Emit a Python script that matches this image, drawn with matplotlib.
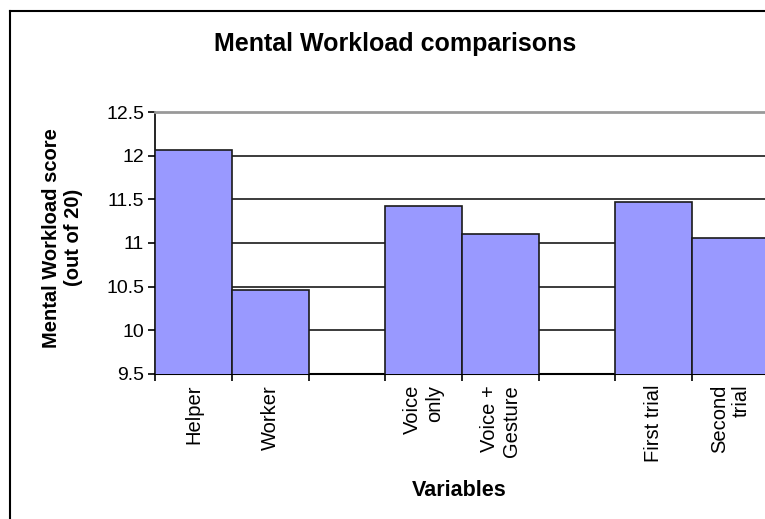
import matplotlib.pyplot as plt
from matplotlib.lines import Line2D

# chart values
labels = ["Helper", "Worker", "Voice\nonly", "Voice +\nGesture", "First trial", "Second\ntrial"]
scores = [12.07, 10.46, 11.43, 11.10, 11.47, 11.06]
groups = [0, 0, 1, 1, 2, 2]
yticks = [9.5, 10, 10.5, 11, 11.5, 12, 12.5]

plt.rcParams['font.family'] = ['Liberation Sans', 'DejaVu Sans']

fig = plt.figure(figsize=(7.65, 5.19), dpi=100)
ax = fig.add_axes([0.203, 0.280, 0.802, 0.5036])

# each group takes two slots plus one empty slot
xpos = []
for i, g in enumerate(groups):
    xpos.append(g * 3 + (i % 2))

ax.bar(xpos, scores, width=1.0, align='edge', color='#9999FF',
       edgecolor='#1a1a1a', linewidth=1.2, zorder=3)

ax.set_xlim(0, 8)
ax.set_ylim(9.5, 12.5)
ax.set_yticks(yticks)
ax.set_yticklabels([f"{t:g}" for t in yticks], fontsize=14)
ax.yaxis.grid(True, color='#1a1a1a', linewidth=1.2, zorder=0)
ax.set_axisbelow(True)

# ticks on category borders, labels in the middle of the bars
ax.set_xticks(range(0, 9))
ax.set_xticklabels([])
ax.tick_params(axis='x', which='major', direction='out', length=5, width=1.2)
ax.tick_params(axis='y', direction='out', length=5, width=1.2, pad=3)
ax.set_xticks([x + 0.5 for x in xpos], minor=True)
ax.set_xticklabels(labels, minor=True, rotation=90, fontsize=14.5,
                   va='top', ha='center', multialignment='right')
ax.tick_params(axis='x', which='minor', length=0, pad=8)

ax.spines['right'].set_visible(False)
ax.spines['top'].set_color('#999999')
ax.spines['top'].set_linewidth(2)
ax.spines['left'].set_linewidth(1.2)
ax.spines['bottom'].set_linewidth(1.5)

fig.text(0.517, 0.915, "Mental Workload comparisons", fontsize=18,
         fontweight='bold', ha='center', va='center')
fig.text(0.082, 0.542, "Mental Workload score\n(out of 20)", fontsize=14.5,
         fontweight='bold', rotation=90, ha='center', va='center')
fig.text(0.600, 0.054, "Variables", fontsize=15.5, fontweight='bold',
         ha='center', va='center')

# chart area border (left and top edges visible)
fig.add_artist(Line2D([0.0137, 0.0137], [0.0, 0.979], transform=fig.transFigure,
                      color='black', linewidth=1.5))
fig.add_artist(Line2D([0.0137, 1.0], [0.979, 0.979], transform=fig.transFigure,
                      color='black', linewidth=1.5))

fig.savefig("out.png", dpi=100)
